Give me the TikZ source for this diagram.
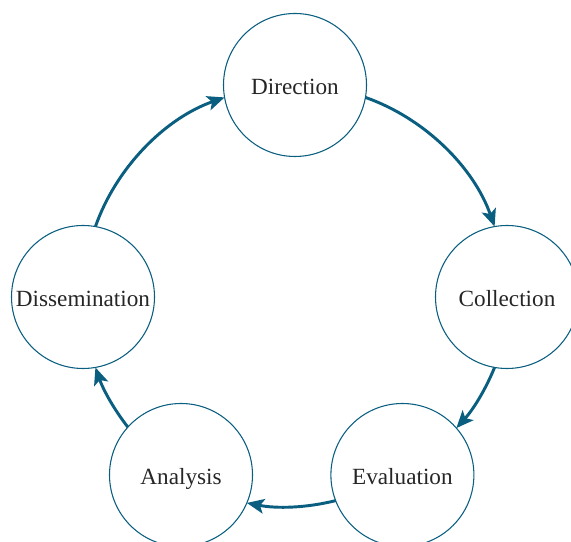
\documentclass[tikz,border=0pt]{standalone}
\usepackage{fontspec}
\setmainfont{Liberation Serif}
\usetikzlibrary{arrows.meta,calc}
\definecolor{cycleblue}{RGB}{10,94,128}

\begin{document}
\begin{tikzpicture}[x=0.75pt, y=0.75pt, outer sep=0pt,
  phase/.style={circle, draw=cycleblue, line width=0.8pt, minimum size=107.25pt,
    inner sep=0pt, text height=14pt, text depth=0pt, text=black!85,
    font=\fontsize{17.4}{20}\selectfont},
  flow/.style={cycleblue, line width=2.2pt, looseness=0.88,
    -{Stealth[length=13pt, width=11pt, inset=3pt]}}]

\useasboundingbox (0,0) rectangle (571,542);

%\draw[step=10, gray!20, very thin] (0,0) grid (571,542);

\coordinate (center) at (295,245);

\node[phase] (dir) at ($(center)+(90:212)$)  {Direction};
\node[phase] (col) at ($(center)+(0:212)$)   {Collection};
\node[phase] (eva) at (402.4,67)             {Evaluation};
\node[phase] (ana) at (181,67)               {Analysis};
\node[phase] (dis) at ($(center)+(180:212)$) {Dissemination};

\draw[flow] (dir.350) to[bend left=25.6] (col.100);
\draw[flow] (col.260) to[bend left=10]   (eva.41);
\draw[flow] (eva.201) to[bend left=12.5] (ana.337);
\draw[flow] (ana.138) to[bend left=9.3]  (dis.280);
\draw[flow] (dis.80)  to[bend left=25.6] (dir.190);

\end{tikzpicture}
\end{document}
